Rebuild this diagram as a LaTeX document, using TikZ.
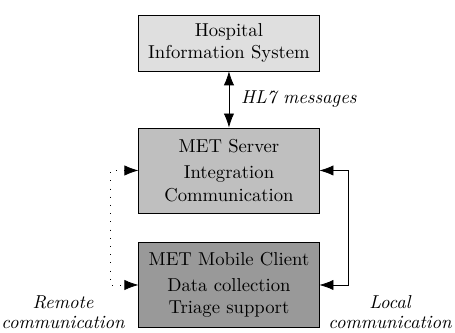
\documentclass[tikz,border=0pt]{standalone}
\usetikzlibrary{arrows.meta}
\newcommand{\metbw}{3.39cm}
\newcommand{\metbhs}{1.05cm}
\newcommand{\metbhl}{1.6cm}
\newcommand{\metcx}{4.307cm}
\newcommand{\metya}{-0.809cm}
\newcommand{\metyb}{-3.207cm}
\newcommand{\metyc}{-5.361cm}
\newcommand{\metxl}{2.069cm}
\newcommand{\metxr}{6.546cm}
\newcommand{\metny}{-5.87cm}
\tikzset{
  metbox/.style={draw, minimum width=\metbw, align=center, inner sep=2pt},
  metlink/.style={{Latex[length=7.5pt,width=5.5pt]}-{Latex[length=7.5pt,width=5.5pt]}},
  metnote/.style={font=\itshape, align=center}
}
\begin{document}
\begin{tikzpicture}
  \useasboundingbox (0,0) rectangle (8.559,-6.264);

  \node (his) at (\metcx, \metya) [metbox, fill=gray!25, minimum height=\metbhs]
    {Hospital\\Information System};
  \node (srv) at (\metcx, \metyb) [metbox, fill=gray!50, minimum height=\metbhl]
    {MET Server\\[2pt]Integration\\Communication};
  \node (cli) at (\metcx, \metyc) [metbox, fill=gray!80, minimum height=\metbhl]
    {MET Mobile Client\\[2pt]Data collection\\Triage support};

  \node (rmtnote) at (1.185cm, \metny) [metnote] {Remote\\[-1.5pt]communication};
  \node (locnote) at (7.336cm, \metny) [metnote] {Local\\[-1.5pt]communication};

  \coordinate (rmt) at (\metxl, \metyb);
  \coordinate (loc) at (\metxr, \metyb);

  \draw[metlink] (his) -- node[right=3pt, metnote] {HL7 messages} (srv);
  \draw[metlink, loosely dotted] (srv.west) -- (rmt) |- (cli.west);
  \draw[metlink] (srv.east) -- (loc) |- (cli.east);
\end{tikzpicture}
\end{document}
